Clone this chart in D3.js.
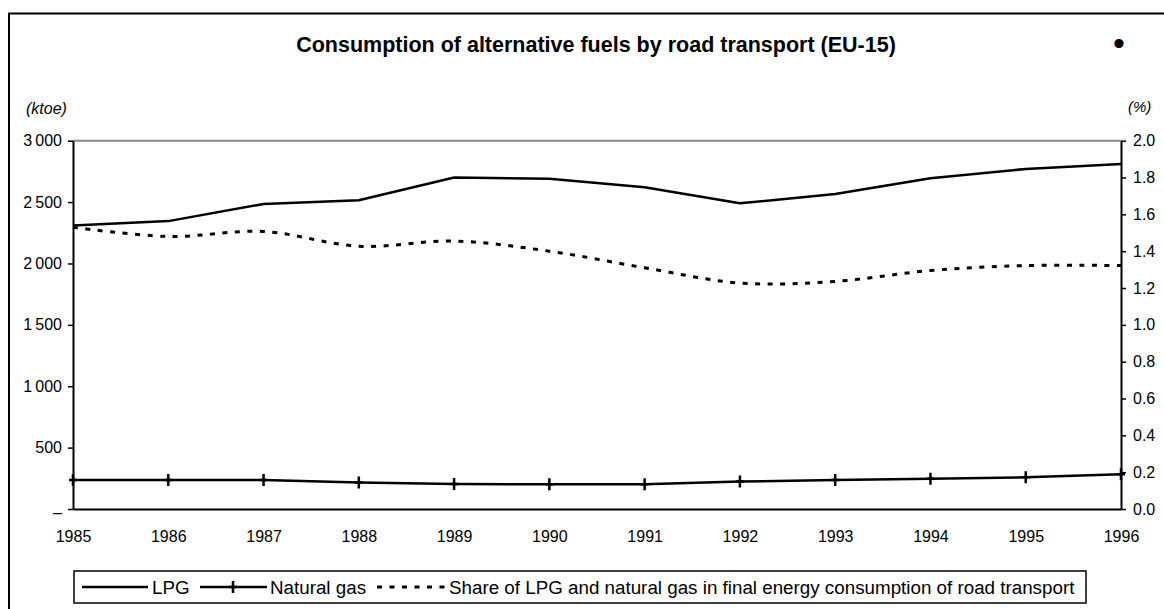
<!DOCTYPE html>
<html>
<head>
<meta charset="utf-8">
<script src="https://cdn.jsdelivr.net/npm/d3@7"></script>
<style>
  html, body { margin: 0; padding: 0; background: #fff; }
  svg { display: block; font-family: "Liberation Sans", Arial, sans-serif; }
</style>
</head>
<body>
<svg id="chart" width="1164" height="609"></svg>
<script>
// Years on the horizontal axis
const years = [1985, 1986, 1987, 1988, 1989, 1990, 1991, 1992, 1993, 1994, 1995, 1996];
// LPG consumption (ktoe)
const lpg = [2310, 2345, 2485, 2515, 2700, 2690, 2620, 2490, 2565, 2695, 2770, 2810];
// Natural gas consumption (ktoe)
const naturalGas = [236, 236, 236, 215, 203, 201, 201, 223, 236, 247, 258, 283];
// Share of LPG and natural gas in final energy consumption of road transport (%)
const share = [1.53, 1.48, 1.507, 1.427, 1.455, 1.40, 1.31, 1.227, 1.236, 1.295, 1.322, 1.322];
// Axis ticks
const leftTicks = [0, 500, 1000, 1500, 2000, 2500, 3000];
const rightTicks = [0, 0.2, 0.4, 0.6, 0.8, 1.0, 1.2, 1.4, 1.6, 1.8, 2.0];

const titleText = "Consumption of alternative fuels by road transport (EU-15)";
const legendLabels = ["LPG", "Natural gas", "Share of LPG and natural gas in final energy consumption of road transport"];

const svg = d3.select("#chart");
const plot = { left: 73, right: 1121, top: 140.7, bottom: 509 };

const x = d3.scaleLinear().domain([1985, 1996]).range([plot.left, plot.right]);
const yL = d3.scaleLinear().domain([0, 3000]).range([plot.bottom, plot.top]);
const yR = d3.scaleLinear().domain([0, 2]).range([plot.bottom, plot.top]);

// Outer frame of the chart
svg.append("rect")
  .attr("x", 9).attr("y", 13.5).attr("width", 1300).attr("height", 800)
  .attr("fill", "none").attr("stroke", "#000").attr("stroke-width", 2);

// Title and marker
svg.append("text")
  .attr("x", 596).attr("y", 52)
  .attr("text-anchor", "middle")
  .attr("font-size", 21.5).attr("font-weight", "bold")
  .text(titleText);
svg.append("text")
  .attr("x", 1119).attr("y", 55)
  .attr("text-anchor", "middle")
  .attr("font-size", 34)
  .text("\u2022");

// Unit labels
svg.append("text").attr("x", 26).attr("y", 114)
  .attr("font-size", 16).attr("font-style", "italic").text("(ktoe)");
svg.append("text").attr("x", 1128).attr("y", 112)
  .attr("font-size", 15).attr("font-style", "italic").text("(%)");

// Top border of the plot area
svg.append("line")
  .attr("x1", plot.left).attr("x2", plot.right)
  .attr("y1", plot.top).attr("y2", plot.top)
  .attr("stroke", "#8a8a8a").attr("stroke-width", 2);

const fmtLeft = d => d === 0 ? "\u2013" : d3.format(",")(d).replace(/,/g, "\u2009");

// Left axis
const gL = svg.append("g").attr("transform", `translate(${plot.left},0)`)
  .call(d3.axisLeft(yL).tickValues(leftTicks).tickSize(5).tickSizeOuter(0).tickPadding(6).tickFormat(fmtLeft));
// Right axis
const gR = svg.append("g").attr("transform", `translate(${plot.right},0)`)
  .call(d3.axisRight(yR).tickValues(rightTicks).tickSize(5).tickSizeOuter(0).tickPadding(7).tickFormat(d3.format(".1f")));
// Bottom axis
const gB = svg.append("g").attr("transform", `translate(0,${plot.bottom})`)
  .call(d3.axisBottom(x).tickValues(years).tickSize(0).tickSizeOuter(0).tickPadding(22).tickFormat(d3.format("d")));

[gL, gR, gB].forEach(g => {
  g.selectAll("text").attr("font-size", 16).attr("fill", "#000")
    .attr("font-family", "\"Liberation Sans\", Arial, sans-serif");
  g.select(".domain").attr("stroke", "#000").attr("stroke-width", 2);
  g.selectAll(".tick line").attr("stroke", "#000").attr("stroke-width", 1.5);
});
gL.selectAll("text").filter(d => d === 0).attr("dy", "0.55em");

// Series lines
const lineL = d3.line().x((d, i) => x(years[i])).y(d => yL(d));
const lineR = d3.line().x((d, i) => x(years[i])).y(d => yR(d)).curve(d3.curveCardinal.tension(0));

svg.append("path").datum(share)
  .attr("d", lineR).attr("fill", "none")
  .attr("stroke", "#000").attr("stroke-width", 3)
  .attr("stroke-dasharray", "5,7.5");

svg.append("path").datum(lpg)
  .attr("d", lineL).attr("fill", "none")
  .attr("stroke", "#000").attr("stroke-width", 2.5).attr("stroke-linejoin", "round");

svg.append("path").datum(naturalGas)
  .attr("d", lineL).attr("fill", "none")
  .attr("stroke", "#000").attr("stroke-width", 2.5).attr("stroke-linejoin", "round");

const plusPath = "M-4,0H4M0,-6V6";
svg.append("g").selectAll("path").data(naturalGas).join("path")
  .attr("transform", (d, i) => `translate(${x(years[i])},${yL(d)})`)
  .attr("d", plusPath).attr("stroke", "#000").attr("stroke-width", 2.5).attr("fill", "none");

// Legend
const lg = svg.append("g");
lg.append("rect")
  .attr("x", 74).attr("y", 571).attr("width", 1012).attr("height", 32)
  .attr("fill", "#fff").attr("stroke", "#000").attr("stroke-width", 1.5);
const ly = 587;
const legendFont = 18.8;
// LPG
lg.append("line").attr("x1", 82).attr("x2", 148).attr("y1", ly).attr("y2", ly)
  .attr("stroke", "#000").attr("stroke-width", 2.5);
lg.append("text").attr("x", 152).attr("y", 594).attr("font-size", legendFont).text(legendLabels[0]);
// Natural gas
lg.append("line").attr("x1", 200).attr("x2", 267).attr("y1", ly).attr("y2", ly)
  .attr("stroke", "#000").attr("stroke-width", 2.5);
lg.append("path").attr("transform", `translate(233,${ly})`).attr("d", plusPath)
  .attr("stroke", "#000").attr("stroke-width", 2.5);
lg.append("text").attr("x", 270).attr("y", 594).attr("font-size", legendFont).text(legendLabels[1]);
// Share
lg.append("line").attr("x1", 377).attr("x2", 446).attr("y1", ly).attr("y2", ly)
  .attr("stroke", "#000").attr("stroke-width", 3).attr("stroke-dasharray", "5,7.5");
lg.append("text").attr("x", 449).attr("y", 594).attr("font-size", legendFont).text(legendLabels[2]);
</script>
</body>
</html>
